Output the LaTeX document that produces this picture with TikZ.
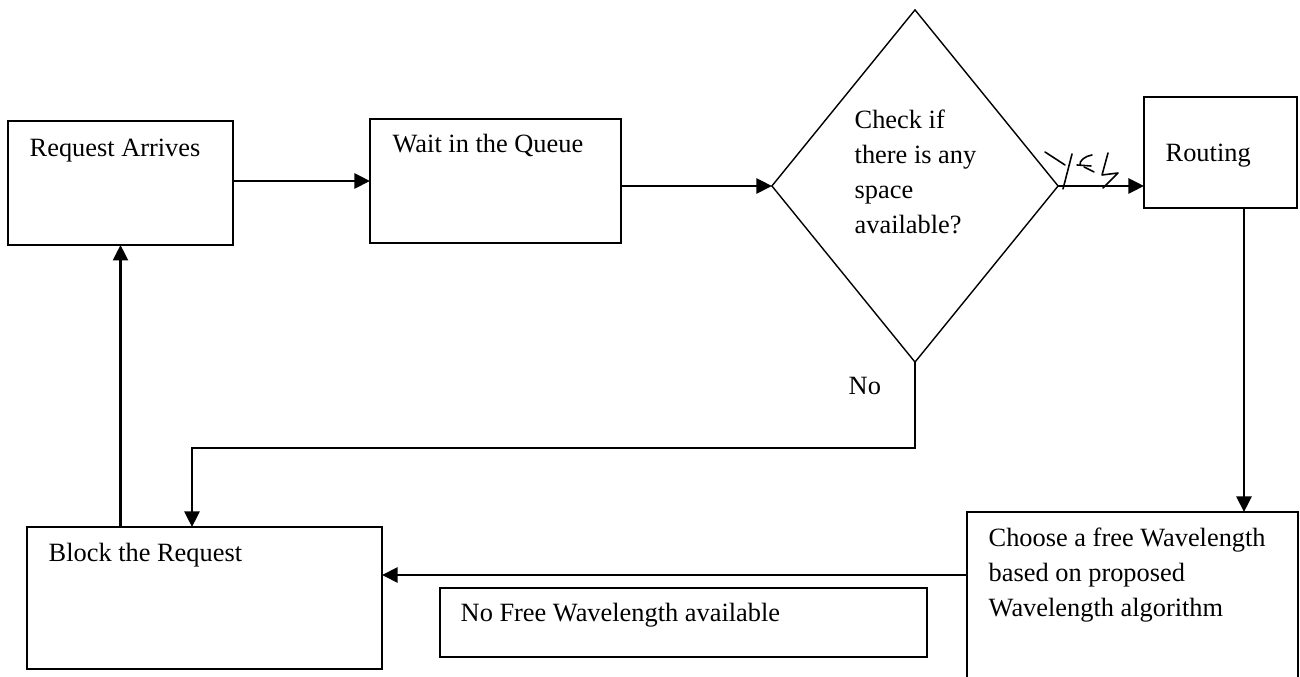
\documentclass[tikz,border=0pt]{standalone}
\usepackage{fontspec}
\setmainfont{Liberation Serif}
\usetikzlibrary{shapes.geometric,arrows.meta}
\begin{document}
\begin{tikzpicture}[x=0.01cm,y=-0.01cm,
  font=\fontsize{7.5}{9.96}\selectfont,
  box/.style={draw,line width=0.6pt,inner sep=0pt,outer sep=0pt},
  dec/.style={draw,diamond,line width=0.4pt,inner sep=0pt,outer sep=0pt},
  lbl/.style={anchor=base west,inner sep=0pt},
  arr/.style={line width=0.65pt,-{Triangle[length=4.4pt,width=4.3pt]}},
  hand/.style={line width=0.45pt,line cap=round,line join=round}]
\useasboundingbox (0,0) rectangle (1300,677);
% boxes
\node[box,minimum width=2.25cm,minimum height=1.24cm] (RA) at (120.5,183) {};
\node[box,minimum width=2.51cm,minimum height=1.24cm] (W) at (495.5,181) {};
\node[dec,minimum width=2.86cm,minimum height=3.52cm] (D) at (915,186) {};
\node[box,minimum width=1.53cm,minimum height=1.11cm] (R) at (1220.5,152.5) {};
\node[box,minimum width=3.31cm,minimum height=1.78cm] (C) at (1132.5,601) {};
\node[box,minimum width=3.55cm,minimum height=1.42cm] (B) at (204.5,598) {};
\node[box,minimum width=4.87cm,minimum height=0.69cm] (N) at (683.5,622.5) {};
% texts
\node[lbl] (tRA) at (29,157) {Request Arrives};
\node[lbl] (tW) at (392,153) {Wait in the Queue};
\node[lbl] (tD1) at (854,129) {Check if};
\node[lbl] (tD2) at (854,164) {there is any};
\node[lbl] (tD3) at (854,199) {space};
\node[lbl] (tD4) at (854,234) {available?};
\node[lbl] (tR) at (1165,162) {Routing};
\node[lbl] (tC1) at (988,547) {Choose a free Wavelength};
\node[lbl] (tC2) at (988,582) {based on proposed};
\node[lbl] (tC3) at (988,617) {Wavelength algorithm};
\node[lbl] (tB) at (48,562) {Block the Request};
\node[lbl] (tN) at (460,622) {No Free Wavelength available};
\node[lbl] (tNo) at (848,395) {No};
% helper coordinates
\coordinate (rc) at (1244,0);
\coordinate (h1) at (0,575);
\coordinate (c1) at (192,448);
% connectors
\draw[arr] (RA.east |- W.west) -- (W.west);
\draw[arr] (W.east |- D.west) -- (D.west);
\draw[arr] (D.east) -- (D.east -| R.west);
\draw[arr] (R.south -| rc) -- (C.north -| rc);
\draw[arr] (C.west |- h1) -- (B.east |- h1);
\draw[arr] (B.north -| RA.south) -- (RA.south);
\draw[arr] (D.south) |- (c1) -- (B.north -| c1);
% handwritten "Yes"
\draw[hand] (1045,152) -- (1065,165);
\draw[hand] (1072,154) -- (1063,189);
\draw[hand] (1092,155) .. controls (1085,156) and (1079,161) .. (1080,165);
\draw[hand] (1077,165) -- (1091,166);
\draw[hand] (1084,167) -- (1094,172);
\draw[hand] (1108,153) -- (1102,175) -- (1118,173) -- (1103,188);
\end{tikzpicture}
\end{document}
